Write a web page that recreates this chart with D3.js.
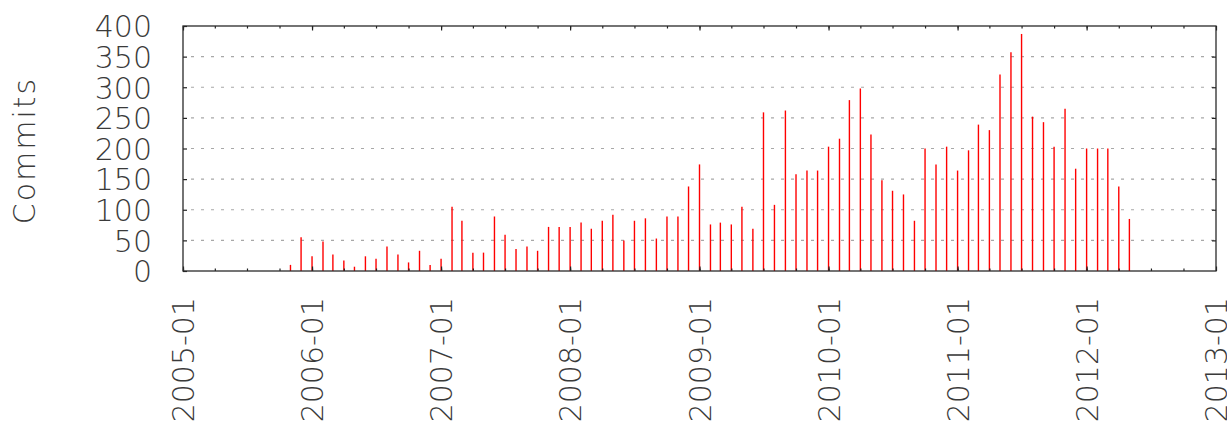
<!DOCTYPE html>
<html>
<head>
<meta charset="utf-8">
<script src="https://cdn.jsdelivr.net/npm/d3@7"></script>
<style>
  body { margin: 0; background: #fff; }
  svg text { font-family: "DejaVu Sans", sans-serif; font-weight: 200; fill: #3a3a3a; }
</style>
</head>
<body>
<div id="chart"></div>
<script>
// monthly commit counts
const months = [
    '2005-11', '2005-12',
    '2006-01', '2006-02', '2006-03', '2006-04', '2006-05', '2006-06', '2006-07', '2006-08', '2006-09', '2006-10', '2006-11', '2006-12',
    '2007-01', '2007-02', '2007-03', '2007-04', '2007-05', '2007-06', '2007-07', '2007-08', '2007-09', '2007-10', '2007-11', '2007-12',
    '2008-01', '2008-02', '2008-03', '2008-04', '2008-05', '2008-06', '2008-07', '2008-08', '2008-09', '2008-10', '2008-11', '2008-12',
    '2009-01', '2009-02', '2009-03', '2009-04', '2009-05', '2009-06', '2009-07', '2009-08', '2009-09', '2009-10', '2009-11', '2009-12',
    '2010-01', '2010-02', '2010-03', '2010-04', '2010-05', '2010-06', '2010-07', '2010-08', '2010-09', '2010-10', '2010-11', '2010-12',
    '2011-01', '2011-02', '2011-03', '2011-04', '2011-05', '2011-06', '2011-07', '2011-08', '2011-09', '2011-10', '2011-11', '2011-12',
    '2012-01', '2012-02', '2012-03', '2012-04', '2012-05'
];
const commits = [
    10, 55,
    24, 48, 27, 17, 7, 24, 20, 40, 27, 14, 33, 10,
    20, 105, 82, 30, 30, 89, 59, 36, 40, 33, 72, 72,
    72, 79, 69, 82, 92, 50, 82, 86, 53, 89, 89, 138,
    174, 76, 79, 76, 105, 69, 259, 108, 262, 158, 164, 164,
    203, 216, 279, 298, 223, 148, 131, 125, 82, 200, 174, 203,
    164, 197, 239, 230, 321, 357, 387, 252, 243, 203, 265, 167,
    200, 200, 200, 138, 85
];
const yTicks = [0, 50, 100, 150, 200, 250, 300, 350, 400];
const gridValues = [50, 100, 150, 200, 250, 300, 350];
const xTickLabels = ['2005-01', '2006-01', '2007-01', '2008-01', '2009-01', '2010-01', '2011-01', '2012-01', '2013-01'];
const yLabel = 'Commits';

const width = 1227, height = 429;
const margin = { top: 26, right: 11, bottom: 158, left: 183 };
const parseMonth = d3.timeParse('%Y-%m');

const data = months.map((m, i) => ({ date: parseMonth(m), value: commits[i] }));

const svg = d3.select('#chart').append('svg')
    .attr('width', width)
    .attr('height', height);

const x = d3.scaleTime()
    .domain([parseMonth(xTickLabels[0]), parseMonth(xTickLabels[xTickLabels.length - 1])])
    .range([margin.left, width - margin.right]);

const y = d3.scaleLinear()
    .domain([0, 400])
    .range([height - margin.bottom, margin.top]);

const x0 = x.range()[0], x1 = x.range()[1];
const yBottom = y.range()[0], yTop = y.range()[1];

// dashed grid
svg.append('g')
    .selectAll('line')
    .data(gridValues)
    .enter().append('line')
    .attr('x1', x0 + 8)
    .attr('x2', x1)
    .attr('y1', d => y(d))
    .attr('y2', d => y(d))
    .attr('stroke', '#a8a8a8')
    .attr('stroke-width', 1.2)
    .attr('stroke-dasharray', '3,7');

// impulses
svg.append('g')
    .selectAll('line')
    .data(data)
    .enter().append('line')
    .attr('x1', d => x(d.date))
    .attr('x2', d => x(d.date))
    .attr('y1', yBottom)
    .attr('y2', d => y(d.value))
    .attr('stroke', '#ff0000')
    .attr('stroke-width', 1.4);

// axes, ticks pointing inward
const yearTicks = xTickLabels.map(parseMonth);
const quarterTicks = d3.timeMonth.every(3).range(x.domain()[0], x.domain()[1]);

function styleAxis(g) {
    g.select('.domain').remove();
    g.selectAll('.tick line').attr('stroke', '#222').attr('stroke-width', 1.2);
}

svg.append('g')
    .attr('transform', `translate(0,${yBottom})`)
    .call(d3.axisBottom(x).tickValues(quarterTicks).tickSize(-2.5).tickFormat(''))
    .call(styleAxis);
svg.append('g')
    .attr('transform', `translate(0,${yTop})`)
    .call(d3.axisTop(x).tickValues(quarterTicks).tickSize(-2.5).tickFormat(''))
    .call(styleAxis);
svg.append('g')
    .attr('transform', `translate(0,${yTop})`)
    .call(d3.axisTop(x).tickValues(yearTicks).tickSize(-4.5).tickFormat(''))
    .call(styleAxis);

const xAxis = svg.append('g')
    .attr('transform', `translate(0,${yBottom})`)
    .call(d3.axisBottom(x).tickValues(yearTicks).tickSize(-4.5).tickFormat(d3.timeFormat('%Y-%m')))
    .call(styleAxis);

xAxis.selectAll('text')
    .attr('transform', 'rotate(-90)')
    .attr('text-anchor', 'end')
    .attr('x', -26)
    .attr('y', 0)
    .attr('dy', '0.36em')
    .attr('font-size', 30)
    .attr('fill', '#3a3a3a');

const yAxis = svg.append('g')
    .attr('transform', `translate(${x0},0)`)
    .call(d3.axisLeft(y).tickValues(yTicks).tickSize(-4).tickPadding(31))
    .call(styleAxis);

yAxis.selectAll('text')
    .attr('font-size', 30)
    .attr('dy', '0.36em')
    .attr('fill', '#3a3a3a');

svg.append('g')
    .attr('transform', `translate(${x1},0)`)
    .call(d3.axisRight(y).tickValues(gridValues).tickSize(-4).tickFormat(''))
    .call(styleAxis);

// border
svg.append('rect')
    .attr('x', x0)
    .attr('y', yTop)
    .attr('width', x1 - x0)
    .attr('height', yBottom - yTop)
    .attr('fill', 'none')
    .attr('stroke', '#2a2a2a')
    .attr('stroke-width', 1.3);

// y label
svg.append('text')
    .attr('transform', `translate(35,${(yTop + yBottom) / 2 + 2}) rotate(-90)`)
    .attr('text-anchor', 'middle')
    .attr('font-size', 30)
    .attr('letter-spacing', 2)
    .text(yLabel);
</script>
</body>
</html>
